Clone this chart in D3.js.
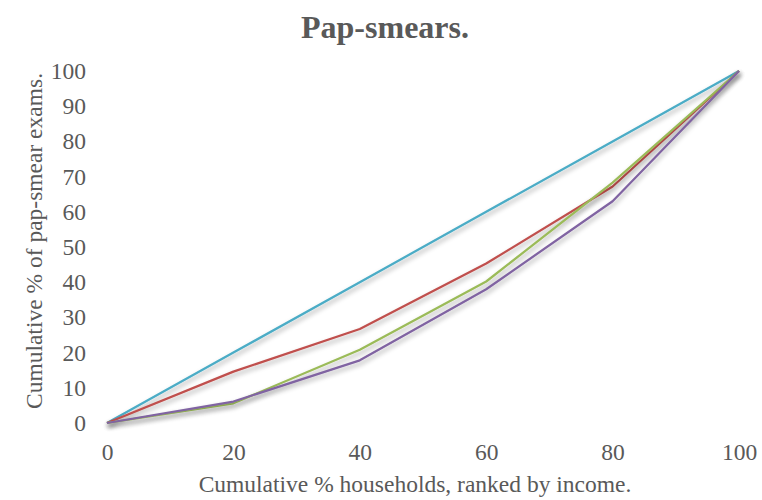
<!DOCTYPE html>
<html>
<head>
<meta charset="utf-8">
<script src="https://cdn.jsdelivr.net/npm/d3@7"></script>
<style>
  html, body { margin: 0; padding: 0; background: #fff; }
  svg { display: block; }
</style>
</head>
<body>
<svg id="chart" width="762" height="500"></svg>
<script>
// Concentration curves: cumulative share of pap-smear exams by income rank
const xValues = [0, 20, 40, 60, 80, 100];
const equality = [0, 20, 40, 60, 80, 100];
const seriesRed = [0, 14.6, 26.7, 45.3, 67.2, 100];
const seriesGreen = [0, 5.6, 20.8, 40.2, 68.3, 100];
const seriesPurple = [0, 6.1, 17.8, 38.0, 63.0, 100];
const xTicks = [0, 20, 40, 60, 80, 100];
const yTicks = [0, 10, 20, 30, 40, 50, 60, 70, 80, 90, 100];
const seriesColors = ["#4bacc6", "#c0504d", "#9bbb59", "#8064a2"];

const svg = d3.select("#chart");
const font = "'Liberation Serif', 'Times New Roman', serif";
const textColor = "#595959";

const x = d3.scaleLinear().domain([0, 100]).range([107, 739]);
const y = d3.scaleLinear().domain([0, 100]).range([423, 71]);

// soft drop shadow under the lines
const defs = svg.append("defs");
const f = defs.append("filter").attr("id", "shadow")
  .attr("x", "-10%").attr("y", "-10%").attr("width", "120%").attr("height", "130%");
f.append("feGaussianBlur").attr("in", "SourceAlpha").attr("stdDeviation", 2.5).attr("result", "blur");
f.append("feOffset").attr("in", "blur").attr("dx", 1).attr("dy", 3).attr("result", "off");
f.append("feComponentTransfer").attr("in", "off").attr("result", "shade")
  .append("feFuncA").attr("type", "linear").attr("slope", 0.35);
const merge = f.append("feMerge");
merge.append("feMergeNode").attr("in", "shade");
merge.append("feMergeNode").attr("in", "SourceGraphic");

// title
svg.append("text")
  .attr("x", 385).attr("y", 38)
  .attr("text-anchor", "middle")
  .attr("font-family", font).attr("font-weight", "bold")
  .attr("font-size", 32).attr("fill", textColor)
  .text("Pap-smears.");

// x axis
const xAxis = svg.append("g").attr("transform", `translate(0,${y(0)})`)
  .call(d3.axisBottom(x).tickValues(xTicks).tickSize(0).tickPadding(20));
xAxis.select(".domain").attr("stroke", "#d9d9d9").attr("stroke-width", 2.25)
  .attr("filter", "url(#shadow)");
xAxis.selectAll("text").attr("font-family", font).attr("font-size", 23.5).attr("fill", textColor);

// y axis (labels only)
const yAxis = svg.append("g").attr("transform", `translate(${x(0)},0)`)
  .call(d3.axisLeft(y).tickValues(yTicks).tickSize(0).tickPadding(21));
yAxis.select(".domain").remove();
yAxis.selectAll("text").attr("font-family", font).attr("font-size", 23.5).attr("fill", textColor);

// axis titles
svg.append("text")
  .attr("x", 415).attr("y", 492)
  .attr("text-anchor", "middle")
  .attr("font-family", font).attr("font-size", 23.5).attr("fill", textColor)
  .text("Cumulative % households, ranked by income.");

svg.append("text")
  .attr("transform", `translate(42,241) rotate(-90)`)
  .attr("text-anchor", "middle")
  .attr("font-family", font).attr("font-size", 23.5).attr("fill", textColor)
  .text("Cumulative % of pap-smear exams.");

// lines
const line = d3.line().x(d => x(d[0])).y(d => y(d[1]));
const series = [equality, seriesRed, seriesGreen, seriesPurple];
const g = svg.append("g");
series.forEach((vals, i) => {
  g.append("path")
    .datum(xValues.map((xv, j) => [xv, vals[j]]))
    .attr("d", line)
    .attr("fill", "none")
    .attr("stroke", seriesColors[i])
    .attr("stroke-width", 2.25)
    .attr("stroke-linejoin", "round")
    .attr("filter", "url(#shadow)");
});
</script>
</body>
</html>
